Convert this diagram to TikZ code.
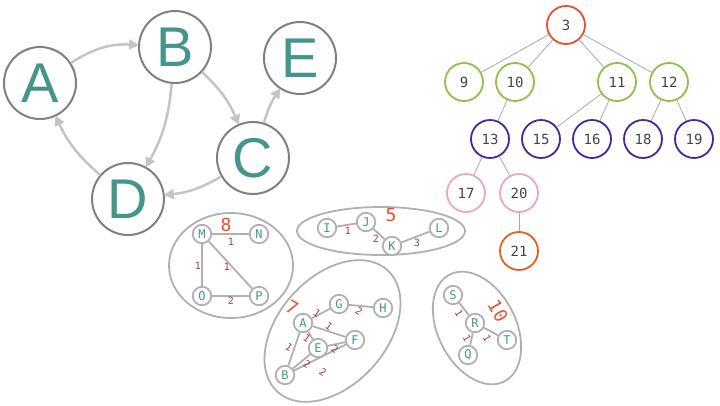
\documentclass[tikz,border=0pt]{standalone}
\usepackage{fontspec}
\setmainfont{Liberation Sans}
\newfontfamily\monofont{DejaVu Sans Mono}
\usetikzlibrary{arrows.meta}
\definecolor{tealc}{HTML}{45968A}
\definecolor{bigring}{HTML}{808080}
\definecolor{arrowc}{HTML}{C4C4C4}
\definecolor{ringc}{HTML}{B0B0B0}
\definecolor{wlab}{HTML}{B03060}
\definecolor{redn}{HTML}{EE4E2A}
\definecolor{rootc}{HTML}{EB4F2E}
\definecolor{greenc}{HTML}{8BC34A}
\definecolor{purplec}{HTML}{4527A0}
\definecolor{pinkc}{HTML}{EDA5C0}
\definecolor{orangec}{HTML}{E2611F}
\definecolor{txtc}{HTML}{444444}
\definecolor{treeedge}{HTML}{AAAAAA}
\begin{document}
\begin{tikzpicture}[x=1pt,y=-1pt,
  big/.style={circle, draw=bigring, line width=2pt, fill=white, minimum size=72pt, inner sep=0pt, font=\fontsize{56}{56}\selectfont, text=tealc},
  arr/.style={draw=arrowc, line width=2.5pt, -{Triangle[length=10pt,width=10pt]}, shorten >=-1pt},
  tn/.style={circle, line width=1.8pt, fill=white, minimum size=38pt, inner sep=0pt, font=\monofont\fontsize{14}{14}\selectfont, text=txtc},
  he/.style={draw=treeedge, line width=0.8pt},
  cn/.style={circle, draw=ringc, line width=1.8pt, fill=white, minimum size=18.5pt, inner sep=0pt, font=\monofont\fontsize{12}{12}\selectfont, text=tealc},
  ce/.style={draw=ringc, line width=1.8pt},
  hull/.style={draw=ringc, line width=1.8pt},
  wl/.style={font=\monofont\fontsize{10}{10}\selectfont, text=wlab, inner sep=0pt},
  redl/.style={font=\monofont\fontsize{18}{18}\selectfont, text=redn, inner sep=0pt}
]
\useasboundingbox (0,0) rectangle (720,405);
% ---- big directed graph
\node[big] (gA) at (40,83) {A};
\node[big] (gB) at (175,47) {B};
\node[big] (gE) at (300,58) {E};
\node[big] (gC) at (253,158) {C};
\node[big] (gD) at (128,199) {D};
\draw[arr] (gA) to[bend left=18] (gB);
\draw[arr] (gB) to[bend left=12] (gC);
\draw[arr] (gB) to[bend left=12] (gD);
\draw[arr] (gC) to[bend left=8] (gE);
\draw[arr] (gC) to[bend left=12] (gD);
\draw[arr] (gD) to[bend left=12] (gA);
% ---- heap tree
\node[tn,draw=rootc] (t3) at (566,25) {3};
\node[tn,draw=greenc] (t9) at (464,82) {9};
\node[tn,draw=greenc] (t10) at (515,82) {10};
\node[tn,draw=greenc] (t11) at (617,82) {11};
\node[tn,draw=greenc] (t12) at (669,82) {12};
\node[tn,draw=purplec] (t13) at (490,139) {13};
\node[tn,draw=purplec] (t15) at (541,139) {15};
\node[tn,draw=purplec] (t16) at (592,139) {16};
\node[tn,draw=purplec] (t18) at (643,139) {18};
\node[tn,draw=purplec] (t19) at (694,139) {19};
\node[tn,draw=pinkc] (t17) at (466,193) {17};
\node[tn,draw=pinkc] (t20) at (519,193) {20};
\node[tn,draw=orangec] (t21) at (519,251) {21};
\foreach \a/\b in {3/9,3/10,3/11,3/12,10/13,11/15,11/16,12/18,12/19,13/17,13/20,20/21}
  \draw[he] (t\a) -- (t\b);
% ---- cluster MNOP
\draw[hull] (231,265.5) ellipse (62 and 52.5);
\node[redl] (w8) at (226,225) {8};
\node[cn] (cM) at (202,234) {M};
\node[cn] (cN) at (259,234) {N};
\node[cn] (cO) at (202,296) {O};
\node[cn] (cP) at (259,296) {P};
\draw[ce] (cM) -- (cN);
\draw[ce] (cM) -- (cO);
\draw[ce] (cM) -- (cP);
\draw[ce] (cO) -- (cP);
\node[wl] (lMN) at (231,242) {1};
\node[wl] (lMO) at (198,266) {1};
\node[wl] (lMP) at (227,267) {1};
\node[wl] (lOP) at (231,301) {2};
% ---- cluster IJKL
\draw[hull] (381,231) ellipse (84 and 24);
\node[redl] (w5) at (391,215) {5};
\node[cn] (cI) at (327,228) {I};
\node[cn] (cJ) at (366,222) {J};
\node[cn] (cK) at (392,246) {K};
\node[cn] (cL) at (439,228) {L};
\draw[ce] (cI) -- (cJ);
\draw[ce] (cJ) -- (cK);
\draw[ce] (cK) -- (cL);
\node[wl] (lIJ) at (348,231) {1};
\node[wl] (lJK) at (376,239) {2};
\node[wl] (lKL) at (417,243) {3};
% ---- cluster ABEFGH
\draw[hull, rotate around={48:(332.5,331)}] (332.5,331) ellipse (82 and 54);
\node[redl, rotate=-30] (w7) at (292,308) {7};
\node[cn] (cG) at (339,304) {G};
\node[cn] (cH) at (383,308) {H};
\node[cn] (cA) at (303,323) {A};
\node[cn] (cE) at (318,348) {E};
\node[cn] (cF) at (355,340) {F};
\node[cn] (cB) at (285,375) {B};
\draw[ce] (cA) -- (cG);
\draw[ce] (cG) -- (cH);
\draw[ce] (cA) -- (cF);
\draw[ce] (cA) -- (cE);
\draw[ce] (cA) -- (cB);
\draw[ce] (cE) -- (cF);
\draw[ce] (cE) -- (cB);
\draw[ce] (cB) -- (cF);
\node[wl, rotate=-35] (lAG) at (317,313) {1};
\node[wl, rotate=-35] (lGH) at (359,311) {2};
\node[wl, rotate=-35] (lAF) at (329,326) {1};
\node[wl, rotate=-35] (lAE) at (307,338) {1};
\node[wl, rotate=-35] (lAB) at (289,347) {1};
\node[wl, rotate=-35] (lEF) at (335,349) {2};
\node[wl, rotate=-35] (lEB) at (307,364) {2};
\node[wl, rotate=-35] (lBF) at (323,372) {2};
% ---- cluster QRST
\draw[hull, rotate around={-63:(477,328)}] (477,328) ellipse (60 and 39);
\node[redl, rotate=-60] (w10) at (498,311) {10};
\node[cn] (cS) at (453,295) {S};
\node[cn] (cR) at (475,323) {R};
\node[cn] (cT) at (507,340) {T};
\node[cn] (cQ) at (468,355) {Q};
\draw[ce] (cS) -- (cR);
\draw[ce] (cR) -- (cT);
\draw[ce] (cR) -- (cQ);
\node[wl, rotate=-60] (lSR) at (459,313) {1};
\node[wl, rotate=-60] (lRQ) at (467,338) {1};
\node[wl, rotate=-60] (lRT) at (487,338) {1};
\end{tikzpicture}
\end{document}
